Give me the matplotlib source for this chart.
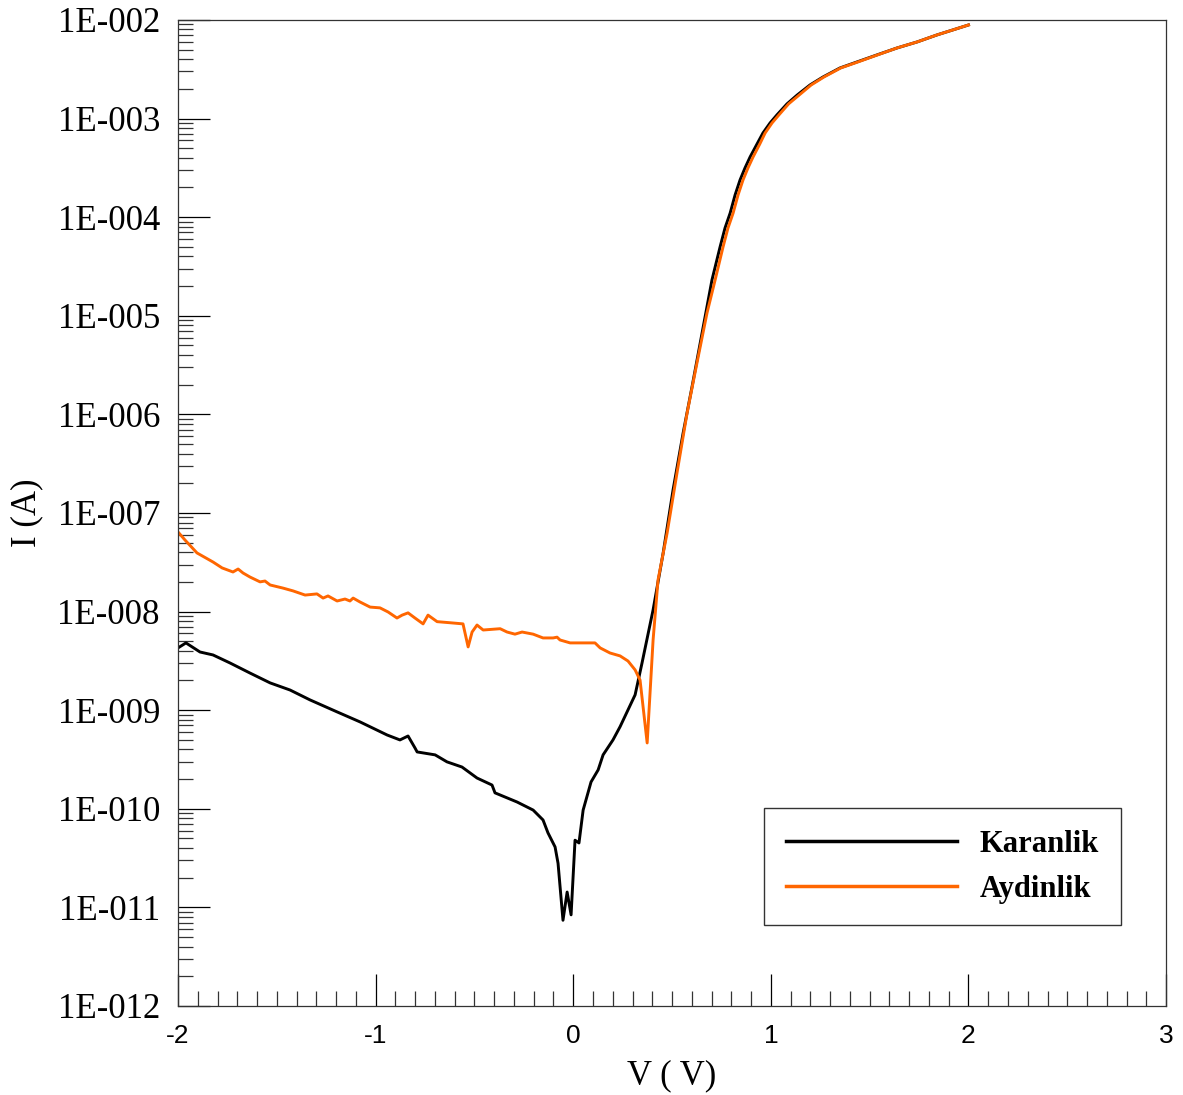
import matplotlib
matplotlib.use("Agg")
import matplotlib.pyplot as plt
from matplotlib.ticker import FuncFormatter, FixedLocator, MultipleLocator, NullFormatter
import numpy as np
import math

# dark measurement (Karanlik)
v_dark = [-2.000, -1.960, -1.889, -1.823, -1.737, -1.636, -1.534, -1.433, -1.332, -1.195,
          -1.079, -0.942, -0.877, -0.836, -0.801, -0.790, -0.699, -0.639, -0.563, -0.487,
          -0.411, -0.396, -0.284, -0.203, -0.153, -0.128, -0.092, -0.077, -0.052, -0.031,
          -0.011, 0.009, 0.029, 0.050, 0.090, 0.126, 0.151, 0.201, 0.237, 0.313,
          0.348, 0.404, 0.455, 0.505, 0.556, 0.601, 0.652, 0.702, 0.743, 0.768,
          0.794, 0.819, 0.844, 0.869, 0.895, 0.930, 0.960, 0.996, 1.031, 1.082,
          1.133, 1.198, 1.264, 1.350, 1.436, 1.537, 1.639, 1.740, 1.841, 1.922,
          2.000]
i_dark = [4.28e-9, 4.81e-9, 3.89e-9, 3.63e-9, 3.01e-9, 2.38e-9, 1.89e-9, 1.60e-9, 1.27e-9, 9.6e-10,
          7.6e-10, 5.6e-10, 4.99e-10, 5.47e-10, 4.14e-10, 3.77e-10, 3.52e-10, 2.99e-10, 2.65e-10, 2.05e-10,
          1.74e-10, 1.45e-10, 1.17e-10, 9.7e-11, 7.7e-11, 5.7e-11, 4.1e-11, 2.8e-11, 7.4e-12, 1.43e-11,
          8.4e-12, 4.8e-11, 4.5e-11, 9.7e-11, 1.87e-10, 2.48e-10, 3.52e-10, 4.99e-10, 6.8e-10, 1.43e-9,
          3.01e-9, 1.04e-8, 3.93e-8, 1.71e-7, 6.47e-7, 1.90e-6, 6.70e-6, 2.31e-5, 4.99e-5, 7.76e-5,
          1.10e-4, 1.68e-4, 2.38e-4, 3.15e-4, 4.08e-4, 5.52e-4, 7.14e-4, 9.02e-4, 1.09e-3, 1.41e-3,
          1.73e-3, 2.19e-3, 2.64e-3, 3.26e-3, 3.75e-3, 4.42e-3, 5.20e-3, 5.98e-3, 7.05e-3, 7.93e-3,
          8.89e-3]

# illuminated measurement (Aydinlik)
v_light = [-2.000, -1.965, -1.904, -1.823, -1.777, -1.722, -1.696, -1.671, -1.636, -1.585,
           -1.560, -1.534, -1.469, -1.418, -1.357, -1.297, -1.266, -1.241, -1.195, -1.155,
           -1.130, -1.114, -1.079, -1.028, -0.978, -0.937, -0.892, -0.866, -0.836, -0.801,
           -0.760, -0.735, -0.689, -0.623, -0.558, -0.532, -0.512, -0.487, -0.456, -0.370,
           -0.335, -0.295, -0.259, -0.203, -0.153, -0.102, -0.082, -0.067, -0.016, 0.050,
           0.110, 0.136, 0.186, 0.237, 0.277, 0.313, 0.338, 0.374, 0.404, 0.429,
           0.475, 0.525, 0.576, 0.626, 0.677, 0.718, 0.758, 0.783, 0.809, 0.834,
           0.859, 0.884, 0.910, 0.944, 0.971, 1.006, 1.041, 1.090, 1.143, 1.204,
           1.269, 1.354, 1.441, 1.540, 1.639, 1.740, 1.841, 1.922, 2.000]
i_light = [6.41e-8, 5.32e-8, 3.93e-8, 3.18e-8, 2.77e-8, 2.52e-8, 2.70e-8, 2.46e-8, 2.24e-8, 2.00e-8,
           2.04e-8, 1.86e-8, 1.73e-8, 1.62e-8, 1.47e-8, 1.51e-8, 1.37e-8, 1.44e-8, 1.28e-8, 1.34e-8,
           1.28e-8, 1.37e-8, 1.25e-8, 1.11e-8, 1.09e-8, 9.9e-9, 8.6e-9, 9.2e-9, 9.7e-9, 8.6e-9,
           7.5e-9, 9.2e-9, 7.9e-9, 7.7e-9, 7.5e-9, 4.38e-9, 6.2e-9, 7.3e-9, 6.5e-9, 6.7e-9,
           6.2e-9, 5.9e-9, 6.2e-9, 5.9e-9, 5.4e-9, 5.4e-9, 5.5e-9, 5.15e-9, 4.81e-9, 4.81e-9,
           4.81e-9, 4.28e-9, 3.80e-9, 3.55e-9, 3.15e-9, 2.56e-9, 2.02e-9, 4.65e-10, 5.15e-9, 2.09e-8,
           6.27e-8, 2.55e-7, 1.03e-6, 3.32e-6, 1.07e-5, 2.31e-5, 4.99e-5, 7.76e-5, 1.10e-4, 1.68e-4,
           2.38e-4, 3.15e-4, 4.08e-4, 5.52e-4, 7.14e-4, 9.02e-4, 1.09e-3, 1.41e-3, 1.73e-3, 2.19e-3,
           2.64e-3, 3.26e-3, 3.75e-3, 4.42e-3, 5.20e-3, 5.98e-3, 7.05e-3, 7.93e-3, 8.89e-3]

decades = list(range(-12, -1))

serif = "Liberation Serif"
sans = "Liberation Sans"

fig = plt.figure(figsize=(11.83, 10.95), dpi=100)
ax = fig.add_axes([0.1505, 0.0813, 0.8352, 0.9005])

ax.plot(v_dark, i_dark, color="black", lw=2.1, label="Karanlik", solid_joinstyle="round")
ax.plot(v_light, i_light, color="#ff6600", lw=2.1, label="Aydinlik", solid_joinstyle="round")

ax.set_yscale("log")
ax.set_xlim(-2, 3)
ax.set_ylim(1e-12, 1e-2)

major_y = [10.0 ** d for d in decades]
minor_y = [m * 10.0 ** d for d in decades[:-1] for m in range(2, 10)]
ax.xaxis.set_major_locator(MultipleLocator(1))
ax.xaxis.set_minor_locator(MultipleLocator(0.1))
ax.yaxis.set_major_locator(FixedLocator(major_y))
ax.yaxis.set_minor_locator(FixedLocator(minor_y))
ax.yaxis.set_major_formatter(FuncFormatter(lambda y, p: "1E-%03d" % abs(round(math.log10(y)))))
ax.yaxis.set_minor_formatter(NullFormatter())
ax.xaxis.set_major_formatter(FuncFormatter(lambda x, p: "%d" % round(x)))

ax.tick_params(which="major", direction="in", length=23, width=0.9, color="black")
ax.tick_params(which="minor", direction="in", length=11, width=0.9, color="#333333")
ax.tick_params(axis="y", which="major", pad=13)
ax.tick_params(axis="x", which="major", pad=13)
for lab in ax.get_yticklabels():
    lab.set_fontfamily(serif)
    lab.set_fontsize(25)
for lab in ax.get_xticklabels():
    lab.set_fontfamily(sans)
    lab.set_fontsize(19)

for s in ax.spines.values():
    s.set_linewidth(0.9)
    s.set_color("#333333")

ax.set_xlabel("V ( V)", fontfamily=serif, fontsize=25, labelpad=8)
ax.set_ylabel("I (A)", fontfamily=serif, fontsize=25, labelpad=10)

leg = ax.legend(loc="lower right", bbox_to_anchor=(0.954, 0.082), fancybox=False,
                prop={"family": serif, "size": 22, "weight": "bold"},
                handlelength=5.6, handletextpad=0.75, borderpad=0.7, labelspacing=0.52,
                framealpha=1, borderaxespad=0)
leg.get_frame().set_edgecolor("#333333")
leg.get_frame().set_linewidth(1.0)
for h in leg.get_lines():
    h.set_linewidth(2.5)

fig.savefig("out.png", dpi=100)
